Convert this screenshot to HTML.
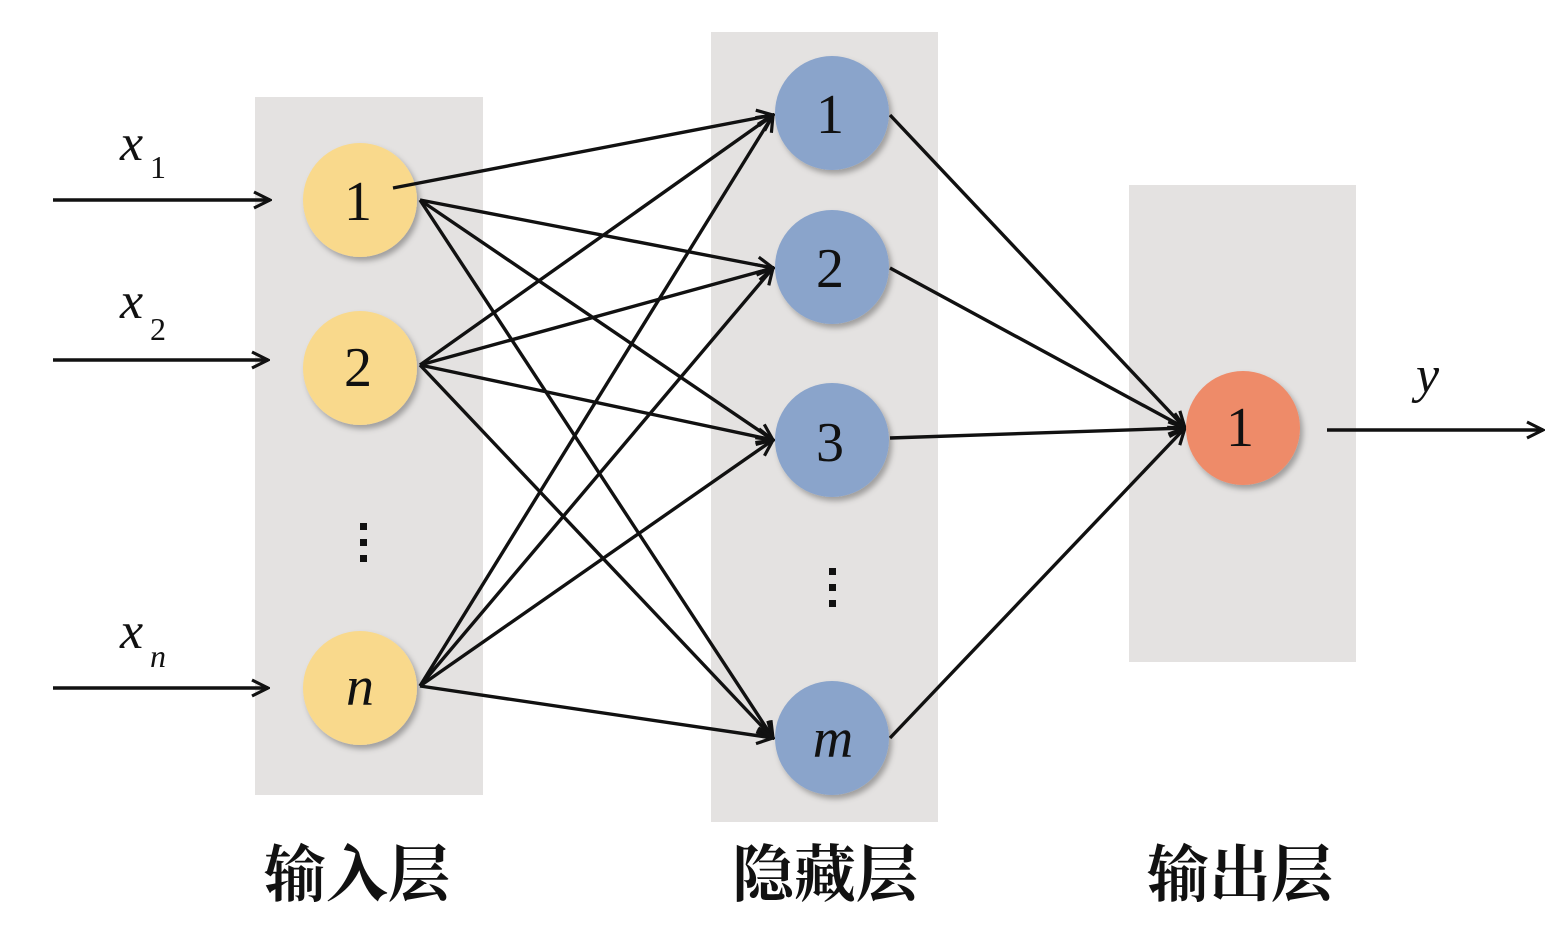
<!DOCTYPE html>
<html><head><meta charset="utf-8"><style>
html,body{margin:0;padding:0;background:#fff;}
svg{display:block;}
text{font-family:"Liberation Serif","Noto Serif CJK SC",serif;}
</style></head><body>
<svg width="1559" height="928" viewBox="0 0 1559 928" xmlns="http://www.w3.org/2000/svg">
<defs>
<marker id="a" viewBox="0 0 20 20" refX="18" refY="10" markerWidth="20" markerHeight="20" markerUnits="userSpaceOnUse" orient="auto">
<path d="M2,2 L18,10 L2,18" fill="none" stroke="#111" stroke-width="3.2"/>
</marker>
<filter id="s" x="-30%" y="-30%" width="160%" height="160%"><feDropShadow dx="3" dy="4" stdDeviation="3" flood-color="#000" flood-opacity="0.3"/></filter>
</defs>
<rect x="255" y="97" width="228" height="698" fill="#e4e2e1"/>
<rect x="711" y="32" width="227" height="790" fill="#e4e2e1"/>
<rect x="1129" y="185" width="227" height="477" fill="#e4e2e1"/>
<g stroke="#111" stroke-width="3.4" fill="none" marker-end="url(#a)">
<line x1="53" y1="200" x2="270" y2="200"/>
<line x1="53" y1="360" x2="268" y2="360"/>
<line x1="53" y1="688" x2="268" y2="688"/>
<line x1="1327" y1="430" x2="1543" y2="430"/>
<line x1="420" y1="200" x2="773" y2="268"/>
<line x1="420" y1="200" x2="773" y2="440"/>
<line x1="420" y1="200" x2="773" y2="738"/>
<line x1="420" y1="365" x2="773" y2="115"/>
<line x1="420" y1="365" x2="773" y2="268"/>
<line x1="420" y1="365" x2="773" y2="440"/>
<line x1="420" y1="365" x2="773" y2="738"/>
<line x1="420" y1="686" x2="773" y2="115"/>
<line x1="420" y1="686" x2="773" y2="268"/>
<line x1="420" y1="686" x2="773" y2="440"/>
<line x1="420" y1="686" x2="773" y2="738"/>
<line x1="890" y1="115" x2="1185" y2="428"/>
<line x1="890" y1="268" x2="1185" y2="428"/>
<line x1="890" y1="438" x2="1185" y2="428"/>
<line x1="890" y1="738" x2="1185" y2="428"/>
</g>
<g filter="url(#s)">
<circle cx="360" cy="200" r="57" fill="#f9d98c"/>
<circle cx="360" cy="368" r="57" fill="#f9d98c"/>
<circle cx="360" cy="688" r="57" fill="#f9d98c"/>
<circle cx="832" cy="113" r="57" fill="#8aa4cb"/>
<circle cx="832" cy="267" r="57" fill="#8aa4cb"/>
<circle cx="832" cy="440" r="57" fill="#8aa4cb"/>
<circle cx="832" cy="738" r="57" fill="#8aa4cb"/>
<circle cx="1243" cy="428" r="57" fill="#ee8b69"/>
</g>
<line x1="393" y1="188" x2="773" y2="115" stroke="#111" stroke-width="3.4" marker-end="url(#a)"/>
<g font-size="56" text-anchor="middle" fill="#111" font-weight="300">
<text x="358" y="220">1</text>
<text x="358" y="386">2</text>
<text x="360" y="705" font-style="italic">n</text>
<text x="830" y="133">1</text>
<text x="830" y="287">2</text>
<text x="830" y="461">3</text>
<text x="833" y="757" font-style="italic">m</text>
<text x="1240" y="446">1</text>
</g>
<g fill="#111">
<rect x="360" y="523" width="7" height="7"/><rect x="360" y="539" width="7" height="7"/><rect x="360" y="555" width="7" height="7"/>
<rect x="829" y="568" width="7" height="7"/><rect x="829" y="584" width="7" height="7"/><rect x="829" y="600" width="7" height="7"/>
</g>
<g fill="#111" font-style="italic" font-size="52">
<text x="120" y="160">x</text><text x="150" y="178" font-size="32" font-style="normal">1</text>
<text x="120" y="318">x</text><text x="150" y="340" font-size="32" font-style="normal">2</text>
<text x="120" y="648">x</text><text x="150" y="667" font-size="32">n</text>
<text x="1416" y="392">y</text>
</g>
<g font-size="62" font-weight="bold" text-anchor="middle" fill="#111" style='font-family:"Noto Serif CJK SC","Noto Sans CJK SC",serif'>
<text x="357" y="896">输入层</text>
<text x="825" y="896">隐藏层</text>
<text x="1240" y="896">输出层</text>
</g>
</svg>
</body></html>
